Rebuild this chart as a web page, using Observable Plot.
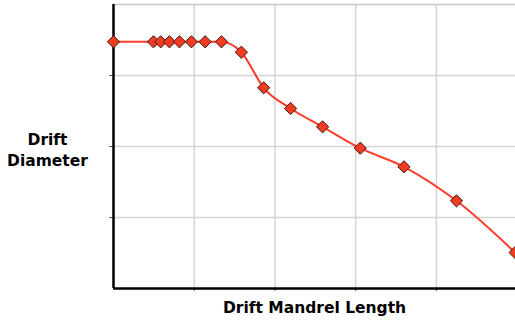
<!DOCTYPE html>
<html>
<head>
<meta charset="utf-8">
<script src="https://cdn.jsdelivr.net/npm/d3@7"></script>
<script src="https://cdn.jsdelivr.net/npm/@observablehq/plot@0.6"></script>
<style>
  html, body { margin: 0; padding: 0; background: #fff; overflow: hidden; }
</style>
</head>
<body>
<div id="chart"></div>
<script>
const mandrelLength = [0, 0.495, 0.585, 0.693, 0.817, 0.965, 1.135, 1.337, 1.584, 1.86, 2.194, 2.59, 3.057, 3.598, 4.249, 4.975];
const driftDiameter = [3.475, 3.475, 3.475, 3.475, 3.475, 3.475, 3.475, 3.475, 3.328, 2.827, 2.535, 2.277, 1.976, 1.714, 1.235, 0.507];
const xTicks = [1, 2, 3, 4];
const yTicks = [1, 2, 3];
const xLabel = "Drift Mandrel Length";
const yLabel = "Drift\nDiameter";

const data = mandrelLength.map((x, i) => ({x, y: driftDiameter[i]}));
const font = "DejaVu Sans, Verdana, sans-serif";

const chart = Plot.plot({
  width: 515,
  height: 320,
  marginLeft: 113,
  marginRight: 0,
  marginTop: 4,
  marginBottom: 32,
  style: {fontFamily: font, background: "#fff"},
  x: {type: "linear", domain: [0, 4.98], axis: null},
  y: {type: "linear", domain: [0, 4], axis: null},
  marks: [
    Plot.gridX(xTicks, {stroke: "#d4d4d4", strokeOpacity: 1, strokeWidth: 1.5}),
    Plot.gridY(yTicks, {stroke: "#d4d4d4", strokeOpacity: 1, strokeWidth: 1.5}),
    Plot.ruleY([4], {stroke: "#c8c8c8", strokeWidth: 1.5}),
    Plot.axisX(xTicks, {tickSize: 3, tickFormat: () => "", stroke: "#555", label: null}),
    Plot.axisY(yTicks, {tickSize: 4, tickFormat: () => "", stroke: "#555", label: null}),
    Plot.ruleX([0], {stroke: "#000", strokeWidth: 2.5}),
    Plot.ruleY([0], {stroke: "#000", strokeWidth: 2.5}),
    Plot.line(data, {x: "x", y: "y", curve: "monotone-x", stroke: "#ff3b2a", strokeWidth: 2}),
    Plot.dot(data, {x: "x", y: "y", symbol: "diamond2", r: 5.5, fill: "#f23c22", stroke: "#3a1a12", strokeWidth: 1}),
    Plot.text([xLabel], {frameAnchor: "bottom", dy: 24, text: d => d, fontSize: 15.5, fontWeight: "bold", fill: "#000", fontFamily: font}),
    Plot.text([yLabel], {frameAnchor: "left", dx: -66, dy: 2, textAnchor: "middle", text: d => d, fontSize: 15.5, fontWeight: "bold", fill: "#000", lineHeight: 1.4, fontFamily: font})
  ]
});
document.getElementById("chart").appendChild(chart);
</script>
</body>
</html>
